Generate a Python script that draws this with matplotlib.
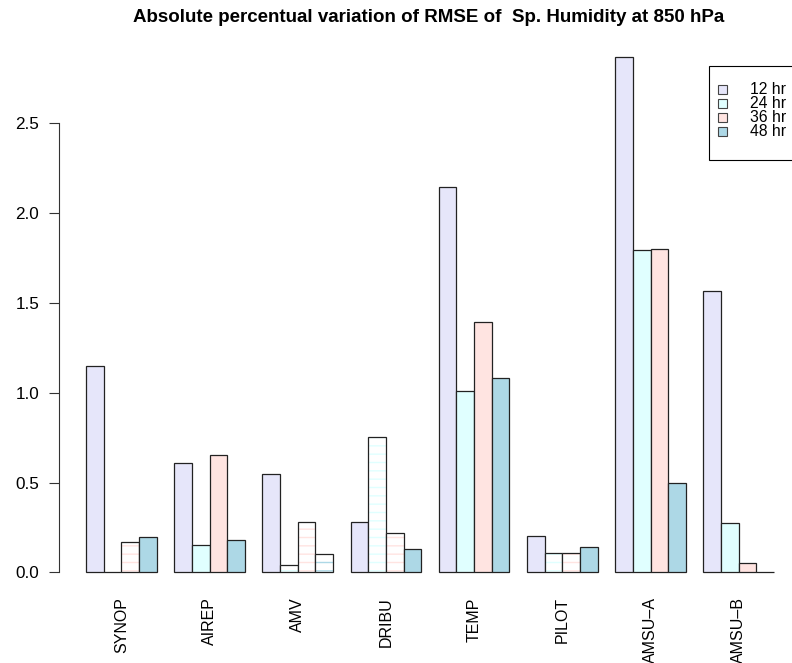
import matplotlib.pyplot as plt
from matplotlib.patches import Rectangle

plt.rcParams['font.family'] = ['Liberation Sans', 'DejaVu Sans']
plt.rcParams['hatch.linewidth'] = 1.0

# data
stations = ["SYNOP", "AIREP", "AMV", "DRIBU", "TEMP", "PILOT", "AMSU\u2013A", "AMSU\u2013B"]
leads = ["12 hr", "24 hr", "36 hr", "48 hr"]
colors = ["lavender", "lightcyan", "mistyrose", "lightblue"]

rmse_12 = [1.15, 0.61, 0.55, 0.28, 2.14, 0.20, 2.865, 1.565]
rmse_24 = [0.0, 0.155, 0.043, 0.752, 1.01, 0.107, 1.79, 0.273]
rmse_36 = [0.168, 0.654, 0.28, 0.22, 1.39, 0.107, 1.80, 0.054]
rmse_48 = [0.196, 0.183, 0.104, 0.13, 1.08, 0.143, 0.50, 0.005]

# bars shown with horizontal lines instead of a fill
lined_12 = [False, False, False, False, False, False, False, False]
lined_24 = [True, False, True, True, False, True, False, False]
lined_36 = [True, False, True, True, False, True, False, False]
lined_48 = [False, False, True, False, False, False, False, False]

series = [rmse_12, rmse_24, rmse_36, rmse_48]
lined = [lined_12, lined_24, lined_36, lined_48]

W, H = 792, 663
fig = plt.figure(figsize=(W / 100, H / 100), dpi=100)
ax = fig.add_axes([58.5 / W, 1 - 593 / H, (W - 58.5) / W, (593 - 38) / H])

n_groups = len(stations)
starts = [1 + 5 * g for g in range(n_groups)]
for j, (vals, flags, col) in enumerate(zip(series, lined, colors)):
    for g in range(n_groups):
        x = starts[g] + j
        if flags[g]:
            ax.bar(x, vals[g], width=1, align='edge', facecolor='white',
                   edgecolor=col, linewidth=0, hatch='--')
            ax.bar(x, vals[g], width=1, align='edge', facecolor='none',
                   edgecolor='#222222', linewidth=0.9)
        else:
            ax.bar(x, vals[g], width=1, align='edge', facecolor=col,
                   edgecolor='#222222', linewidth=0.9)

ax.set_xlim(-0.56, 41.02)
ax.set_ylim(-0.114, 2.97)

centers = [s + 2 for s in starts]
ax.set_xticks(centers)
ax.set_xticklabels(stations, rotation=90, fontsize=11.5)
ax.tick_params(axis='x', length=0, pad=3)

yt = [0.0, 0.5, 1.0, 1.5, 2.0, 2.5]
ax.set_yticks(yt)
ax.set_yticklabels([f"{v:.1f}" for v in yt], fontsize=12.3)
ax.tick_params(axis='y', length=7, pad=7, width=0.8, color='#333333')

for s in ['top', 'right', 'bottom']:
    ax.spines[s].set_visible(False)
ax.spines['left'].set_bounds(0, 2.5)
ax.spines['left'].set_color('#333333')
ax.spines['left'].set_linewidth(0.8)

fig.text(429 / W, 1 - 18 / H,
         "Absolute percentual variation of RMSE of  Sp. Humidity at 850 hPa",
         ha='center', va='center', fontweight='bold', fontsize=13.5)

# legend box, drawn in figure pixels like the R legend()
fig.add_artist(Rectangle((709 / W, 1 - 160 / H), 100 / W, 94 / H,
                         transform=fig.transFigure, facecolor='white',
                         edgecolor='black', linewidth=0.8))
for i, (lab, col) in enumerate(zip(leads, colors)):
    yc = 89.5 + 14 * i
    fig.add_artist(Rectangle((718 / W, 1 - (yc + 4.5) / H), 9 / W, 9 / H,
                             transform=fig.transFigure, facecolor=col,
                             edgecolor='#444444', linewidth=0.8))
    fig.text(750 / W, 1 - yc / H, lab, ha='left', va='center', fontsize=11.3)

fig.savefig('out.png', dpi=100)
